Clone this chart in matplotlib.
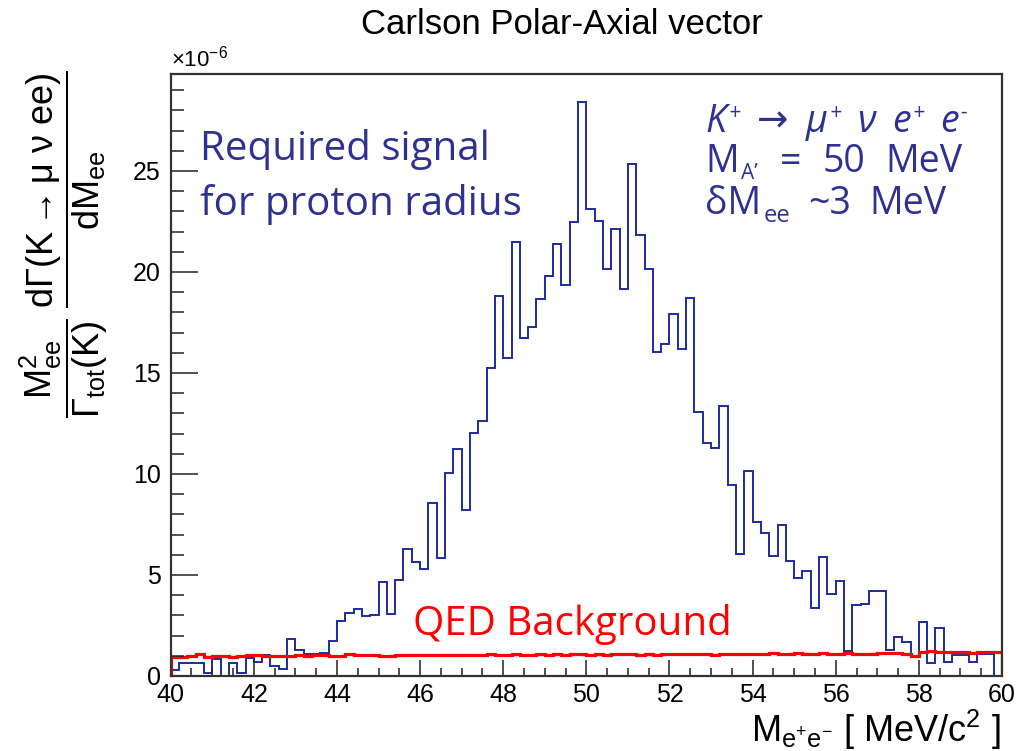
import numpy as np
import matplotlib
matplotlib.use("Agg")
import matplotlib.pyplot as plt
from matplotlib.ticker import MultipleLocator
from matplotlib.transforms import offset_copy

# histogram contents in units of 1e-6, 100 bins of 0.2 MeV from 40 to 60
x_lo, x_hi, n_bins = 40, 60, 100
signal = [0.32, 0.63, 0.63, 0.63, 0.13, 0.83, 0.00, 0.66, 0.15, 0.90,
          0.69, 1.06, 0.51, 0.35, 1.83, 1.29, 1.10, 1.10, 1.12, 1.73,
          2.70, 3.12, 3.33, 2.98, 3.03, 4.67, 3.07, 4.75, 6.27, 5.66,
          5.28, 8.58, 5.83, 10.03, 11.22, 8.22, 12.05, 12.62, 15.23, 18.82,
          15.75, 21.48, 16.72, 17.29, 18.65, 19.78, 21.40, 19.37, 22.48, 28.40,
          23.10, 22.52, 20.13, 22.11, 19.16, 25.33, 21.83, 20.15, 16.04, 16.44,
          17.91, 16.17, 18.73, 13.05, 11.52, 11.29, 13.38, 9.44, 6.06, 10.17,
          7.61, 7.06, 5.96, 7.48, 5.71, 4.85, 5.18, 3.36, 5.89, 4.06,
          4.70, 1.25, 3.51, 3.55, 4.21, 4.22, 1.29, 1.95, 1.67, 0.99,
          2.69, 0.66, 2.36, 0.68, 1.04, 1.04, 0.68, 1.07, 1.07, 0.00]
qed = [0.95, 0.95, 0.97, 1.07, 0.93, 0.98, 0.99, 0.96, 0.97, 1.05,
       1.04, 0.98, 1.00, 0.99, 1.00, 1.03, 0.99, 1.02, 1.04, 0.97,
       0.98, 1.07, 1.04, 1.03, 1.02, 1.00, 1.01, 1.04, 1.02, 1.06,
       1.03, 1.05, 1.02, 1.04, 1.05, 1.03, 1.06, 1.04, 1.07, 1.05,
       1.03, 1.07, 1.05, 1.06, 1.08, 1.05, 1.07, 1.06, 1.08, 1.10,
       1.06, 1.08, 1.05, 1.09, 1.07, 1.10, 1.06, 1.08, 1.05, 1.09,
       1.08, 1.11, 1.07, 1.10, 1.08, 1.06, 1.09, 1.11, 1.08, 1.10,
       1.07, 1.09, 1.12, 1.08, 1.10, 1.12, 1.09, 1.11, 1.13, 1.10,
       1.08, 1.12, 1.10, 1.10, 1.11, 1.13, 1.15, 1.12, 1.08, 1.00,
       1.20, 1.22, 1.19, 1.17, 1.18, 1.20, 1.16, 1.19, 1.18, 1.17]
edges = np.linspace(x_lo, x_hi, n_bins + 1)

plt.rcParams["font.family"] = ["Liberation Sans", "DejaVu Sans"]
plt.rcParams["mathtext.fontset"] = "custom"
plt.rcParams["mathtext.rm"] = "Liberation Sans"
plt.rcParams["mathtext.it"] = "Liberation Sans:italic"
plt.rcParams["mathtext.bf"] = "Liberation Sans:bold"

BLUE_LINE = "#1c2c9c"
BLUE_TEXT = "#2e3192"
ANNOT_FONT = ["Open Sans", "DejaVu Sans"]

fig = plt.figure(figsize=(10.24, 7.51), dpi=100)
ax = fig.add_axes([0.1667, 0.0999, 0.8118, 0.8016])

ax.stairs(signal, edges, color=BLUE_LINE, linewidth=1.4)
ax.stairs(qed, edges, color="#ff0000", linewidth=2.3)

ax.set_xlim(x_lo, x_hi)
ax.set_ylim(0, 29.8)
ax.xaxis.set_major_locator(MultipleLocator(2))
ax.xaxis.set_minor_locator(MultipleLocator(0.5))
ax.yaxis.set_major_locator(MultipleLocator(5))
ax.yaxis.set_minor_locator(MultipleLocator(1))
ax.tick_params(which="both", direction="in", top=False, right=False,
               labelsize=18, width=1.1, color="#222222")
ax.tick_params(axis="x", which="major", length=11.5, pad=5)
ax.tick_params(axis="x", which="minor", length=5.8)
ax.tick_params(axis="y", which="major", length=19.4, pad=7)
ax.tick_params(axis="y", which="minor", length=9.4)
for sp in ax.spines.values():
    sp.set_linewidth(1.6)
    sp.set_color("#333333")

ax.text(0.0, 1.004, r"$\mathrm{\times 10^{-6}}$", transform=ax.transAxes,
        fontsize=16, ha="left", va="bottom")

fig.text(0.549, 0.967, "Carlson Polar-Axial vector", fontsize=25,
         ha="center", va="center")
fig.text(0.977, 0.028, r"$\mathrm{M_{e^{+}e^{-}}}$ [ MeV/c$^{2}$ ]",
         fontsize=26, ha="right", va="center")
fig.text(0.062, 0.675,
         r"$\dfrac{\mathrm{M^{2}_{ee}}}{\Gamma_{\mathrm{tot}}\mathrm{(K)}}\;"
         r"\dfrac{\mathrm{d}\Gamma\mathrm{(K \rightarrow \mu\ \nu\ ee)}}{\mathrm{dM_{ee}}}$",
         fontsize=26, rotation=90, ha="center", va="center")

# annotations
ax.text(0.035, 0.857, "Required signal", transform=ax.transAxes,
        fontsize=29, color=BLUE_TEXT, family=ANNOT_FONT, va="baseline")
ax.text(0.035, 0.766, "for proton radius", transform=ax.transAxes,
        fontsize=29, color=BLUE_TEXT, family=ANNOT_FONT, va="baseline")
ax.text(0.292, 0.068, "QED Background", transform=ax.transAxes,
        fontsize=29, color="#ff0000", family=ANNOT_FONT, va="baseline")


def chain_text(x, y, parts, **kw):
    # parts: (text, fontsize, vertical offset px, gap after px)
    renderer = fig.canvas.get_renderer()
    dx = 0.0
    for s, size, dy, gap in parts:
        tr = offset_copy(ax.transAxes, fig=fig, x=dx, y=dy, units="dots")
        t = ax.text(x, y, s, transform=tr, fontsize=size, va="baseline",
                    ha="left", color=BLUE_TEXT, family=ANNOT_FONT, **kw)
        dx += t.get_window_extent(renderer).width + gap


chain_text(0.643, 0.904,
           [("K", 27, 0, 2), ("+", 15, 13, 17), ("\u2192", 27, 0, 17),
            ("\u03bc", 27, 0, 2), ("+", 15, 13, 16), ("\u03bd", 27, 0, 16),
            ("e", 27, 0, 2), ("+", 15, 13, 16), ("e", 27, 0, 2),
            ("-", 15, 13, 0)], style="italic")
chain_text(0.643, 0.837,
           [("M", 27, 0, 2), ("A\u2019", 15, -7, 22), ("=", 27, 0, 22),
            ("50", 27, 0, 20), ("MeV", 27, 0, 0)])
chain_text(0.643, 0.767,
           [("\u03b4M", 27, 0, 2), ("ee", 17, -8, 18), ("~3", 27, 0, 18),
            ("MeV", 27, 0, 0)])

fig.savefig("out.png", dpi=100)
